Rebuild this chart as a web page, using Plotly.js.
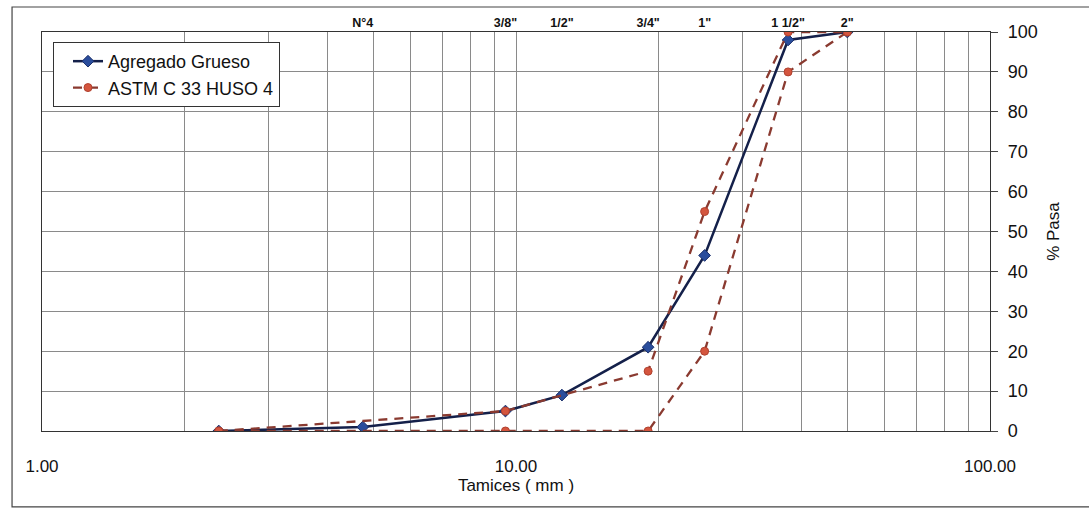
<!DOCTYPE html>
<html>
<head>
<meta charset="utf-8">
<script src="https://cdn.plot.ly/plotly-3.0.1.min.js"></script>
<style>
html,body{margin:0;padding:0;background:#fff;}
#chart{width:1089px;height:511px;}
</style>
</head>
<body>
<div id="chart"></div>
<script>
// Sieve openings (mm)
var sieveSizes = [2.36, 4.75, 9.5, 12.5, 19, 25, 37.5, 50];
// Agregado Grueso (% pasa)
var gruesoPasa = [0, 1, 5, 9, 21, 44, 98, 100];
// ASTM C 33 HUSO 4 limits
var astmSizes = [2.36, 9.5, 19, 25, 37.5, 50];
var astmUpper = [0, 5, 15, 55, 100, 100];
var astmLower = [0, 0, 0, 20, 90, 100];
// Top axis sieve names
var topTickVals = [4.75, 9.5, 12.5, 19, 25, 37.5, 50];
var topTickText = ['N°4', '3/8"', '1/2"', '3/4"', '1"', '1 1/2"', '2"'];
// Bottom axis ticks (log grid)
var bottomTickVals = [1,2,3,4,5,6,7,8,9,10,20,30,40,50,60,70,80,90,100];
var bottomTickText = ['1.00','','','','','','','','','10.00','','','','','','','','','100.00'];

var redLine = '#8a3a30';
var redMarker = '#d4553e';

var traces = [
  {
    x: sieveSizes, y: gruesoPasa, type: 'scatter', mode: 'lines+markers',
    name: 'Agregado Grueso', legendgroup: 'grueso', showlegend: true,
    line: {color: '#14204a', width: 2.5},
    marker: {symbol: 'diamond', size: 9, color: '#2a4d9c', line: {color: '#1a2f6a', width: 1}}
  },
  {
    x: astmSizes, y: astmUpper, type: 'scatter', mode: 'lines+markers',
    name: 'ASTM C 33 HUSO 4', legendgroup: 'astm', showlegend: true,
    line: {color: redLine, width: 2.3, dash: '9px,7px'},
    marker: {symbol: 'circle', size: 8, color: redMarker, line: {color: '#b0402e', width: 1}}
  },
  {
    x: astmSizes, y: astmLower, type: 'scatter', mode: 'lines+markers',
    name: 'ASTM C 33 HUSO 4', legendgroup: 'astm', showlegend: false,
    line: {color: redLine, width: 2.3, dash: '9px,7px'},
    marker: {symbol: 'circle', size: 8, color: redMarker, line: {color: '#b0402e', width: 1}}
  },
  {
    x: topTickVals, y: topTickVals.map(function(){return null;}), type: 'scatter', mode: 'markers',
    xaxis: 'x2', showlegend: false, hoverinfo: 'skip', marker: {opacity: 0}
  }
];

var layout = {
  width: 1089, height: 511,
  margin: {l: 42, r: 99, t: 32, b: 80},
  paper_bgcolor: '#ffffff', plot_bgcolor: '#ffffff',
  font: {family: 'Liberation Sans, Arial, sans-serif', color: '#111'},
  showlegend: true,
  legend: {
    x: 0.0116, y: 0.975, xanchor: 'left', yanchor: 'top',
    bgcolor: '#ffffff', bordercolor: '#333', borderwidth: 1,
    font: {size: 18, color: '#111'}, tracegroupgap: 0, indentation: 14
  },
  xaxis: {
    type: 'log', range: [0, 2],
    tickmode: 'array', tickvals: bottomTickVals, ticktext: bottomTickText,
    showgrid: true, gridcolor: '#8a8a8a', gridwidth: 1,
    showline: true, linecolor: '#333', linewidth: 1.2, mirror: true,
    ticks: '', ticklabelstandoff: 19,
    tickfont: {size: 17, color: '#111'},
    title: {text: 'Tamices ( mm )', font: {size: 17, color: '#111'}, standoff: 2},
    zeroline: false
  },
  xaxis2: {
    type: 'log', range: [0, 2], overlaying: 'x', side: 'top',
    tickmode: 'array', tickvals: topTickVals, ticktext: topTickText,
    showgrid: false, showline: false, ticks: '',
    tickfont: {size: 12.5, color: '#111', weight: 'bold'}, ticklabelstandoff: 2
  },
  yaxis: {
    range: [0, 100], side: 'right', dtick: 10, tick0: 0,
    showgrid: true, gridcolor: '#8a8a8a', gridwidth: 1,
    showline: true, linecolor: '#333', linewidth: 1.2, mirror: true,
    ticks: 'outside', ticklen: 7, tickcolor: '#444', ticklabelstandoff: 6,
    tickfont: {size: 18, color: '#111'},
    title: {text: '% Pasa', font: {size: 17, color: '#111'}, standoff: 10},
    zeroline: false
  },
  shapes: [
    {type: 'rect', xref: 'paper', yref: 'paper', x0: -0.0316, x1: 1.12, y0: -0.19, y1: 1.0627,
     line: {color: '#444', width: 1.2}, fillcolor: 'rgba(0,0,0,0)', layer: 'below'}
  ]
};

Plotly.newPlot('chart', traces, layout, {displayModeBar: false, staticPlot: true});
</script>
</body>
</html>
